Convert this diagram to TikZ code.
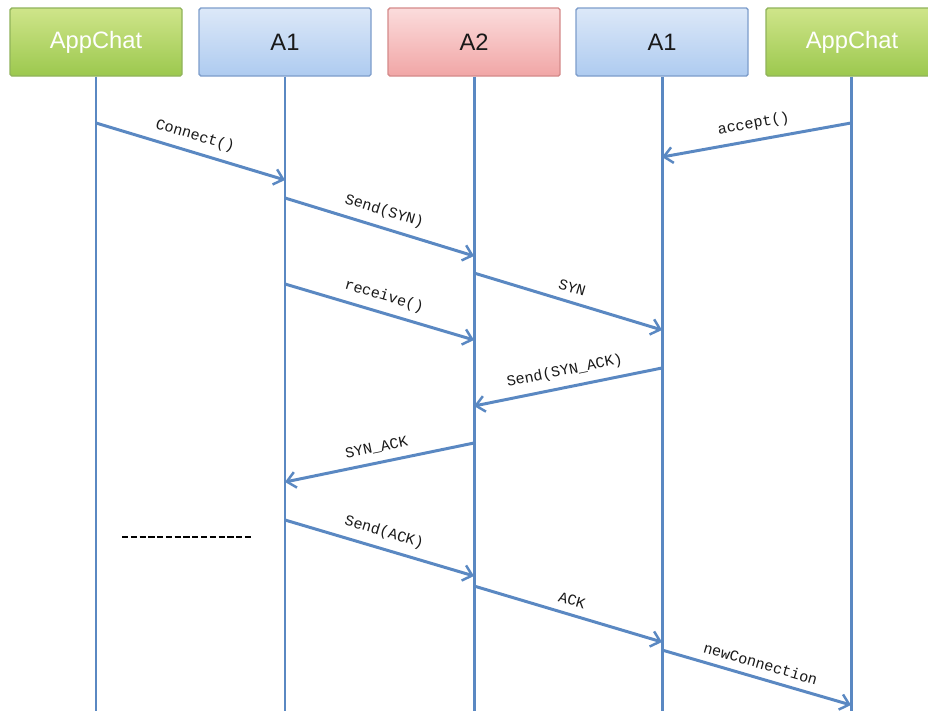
\documentclass[tikz,border=0pt]{standalone}
\usepackage{fontspec}
\setmainfont{Liberation Sans}
\newfontfamily\msgfont{Liberation Mono}
\usetikzlibrary{positioning,arrows.meta}

\definecolor{lifeblue}{HTML}{5A88C2}
\definecolor{greentop}{HTML}{CFE58A}
\definecolor{greenbot}{HTML}{9CC84E}
\definecolor{greenline}{HTML}{90B35A}
\definecolor{bluetop}{HTML}{DCE8F8}
\definecolor{bluebot}{HTML}{AECBF0}
\definecolor{blueline}{HTML}{7D9DCB}
\definecolor{redtop}{HTML}{FBDCDC}
\definecolor{redbot}{HTML}{F1A6A6}
\definecolor{redline}{HTML}{D48A8A}

\tikzset{
  actor/.style={minimum width=172*0.02cm, minimum height=68*0.02cm, rounded corners=1pt,
    draw, line width=0.8pt, font=\fontsize{13.5}{15}\selectfont},
  appchat/.style={actor, top color=greentop, bottom color=greenbot, draw=greenline, text=white},
  agentA/.style={actor, top color=bluetop, bottom color=bluebot, draw=blueline, text=black!90},
  agentB/.style={actor, top color=redtop, bottom color=redbot, draw=redline, text=black!90},
  lifeline/.style={lifeblue, line width=1.7pt},
  msg/.style={-{Straight Barb[length=5pt,width=9pt,line width=1.4pt]}, lifeblue, line width=1.7pt},
  msglabel/.style={midway, above=1pt, sloped, font=\msgfont\fontsize{8.6}{10}\selectfont, text=black!90}
}

\begin{document}
\begin{tikzpicture}[x=0.02cm, y=-0.02cm]
	\clip (0,0) rectangle (928,710);
	\fill[white] (0,0) rectangle (928,710);
	% actors
	\node[appchat] (chatL) at (96,42) {AppChat};
	\node[agentA] (aL) at (285,42) {A1};
	\node[agentB] (a2) at (474,42) {A2};
	\node[agentA] (aR) at (662,42) {A1};
	\node[appchat] (chatR) at (852,42) {AppChat};
	% lifelines
	\coordinate (endChatL) at (96,712);
	\coordinate (endAL) at (285,712);
	\coordinate (endA2) at (474,712);
	\coordinate (endAR) at (662,712);
	\coordinate (endChatR) at (851,712);
	\draw[lifeline] (chatL.south) -- (endChatL);
	\draw[lifeline] (aL.south) -- (endAL);
	\draw[lifeline] (a2.south) -- (endA2);
	\draw[lifeline] (aR.south) -- (endAR);
	\draw[lifeline] (chatR.south -| endChatR) -- (endChatR);
	% messages
	\coordinate (m1a) at (96,123);  \coordinate (m1b) at (285,180);
	\coordinate (m2a) at (851,123); \coordinate (m2b) at (662,157);
	\coordinate (m3a) at (285,198); \coordinate (m3b) at (474,256);
	\coordinate (m4a) at (474,273); \coordinate (m4b) at (662,330);
	\coordinate (m5a) at (285,284); \coordinate (m5b) at (474,340);
	\coordinate (m6a) at (662,368); \coordinate (m6b) at (474,406);
	\coordinate (m7a) at (474,443); \coordinate (m7b) at (285,482);
	\coordinate (m8a) at (285,520); \coordinate (m8b) at (474,576);
	\coordinate (m9a) at (474,586); \coordinate (m9b) at (662,642);
	\coordinate (m10a) at (662,650); \coordinate (m10b) at (851,705);
	\draw[msg] (m1a) -- (m1b) node[msglabel] {Connect()};
	\draw[msg] (m2a) -- (m2b) node[msglabel] {accept()};
	\draw[msg] (m3a) -- (m3b) node[msglabel] {Send(SYN)};
	\draw[msg] (m4a) -- (m4b) node[msglabel] {SYN};
	\draw[msg] (m5a) -- (m5b) node[msglabel] {receive()};
	\draw[msg] (m6a) -- (m6b) node[msglabel] {Send(SYN\_ACK)};
	\draw[msg] (m7a) -- (m7b) node[msglabel] {SYN\_ACK};
	\draw[msg] (m8a) -- (m8b) node[msglabel] {Send(ACK)};
	\draw[msg] (m9a) -- (m9b) node[msglabel] {ACK};
	\draw[msg] (m10a) -- (m10b) node[msglabel] {newConnection};
	% separator
	\coordinate (dashA) at (122,537);
	\coordinate (dashB) at (253,537);
	\draw[dash pattern=on 3.5pt off 1.5pt, line width=0.9pt] (dashA) -- (dashB);
\end{tikzpicture}
\end{document}
